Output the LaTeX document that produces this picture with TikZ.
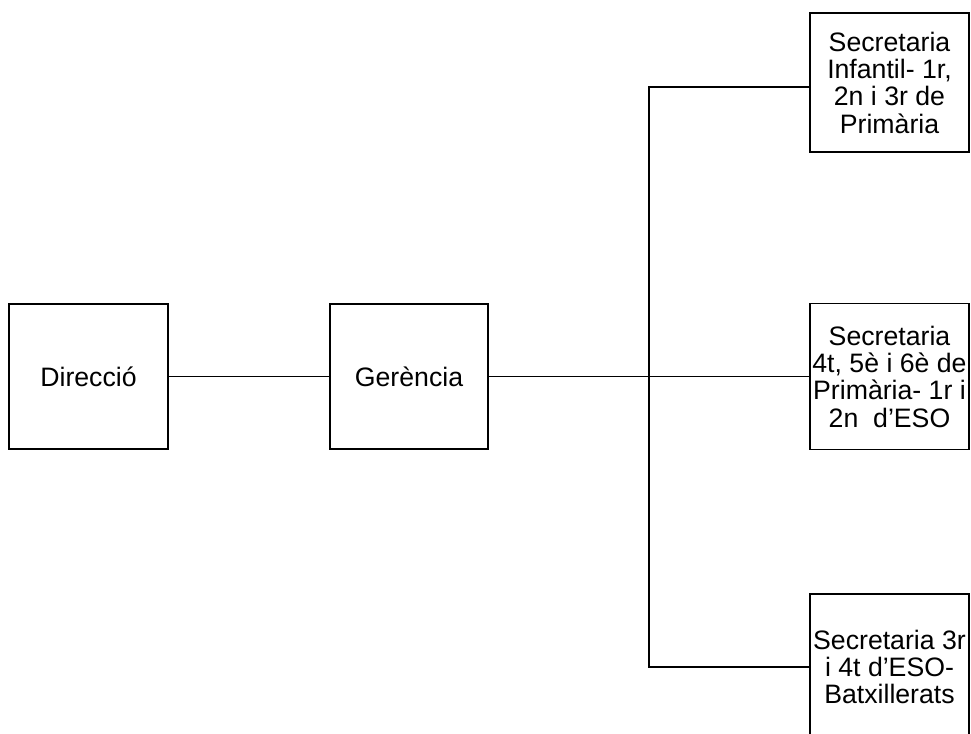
\documentclass[tikz,border=0pt]{standalone}
\usepackage{fontspec}
\setmainfont{Liberation Sans}
\usetikzlibrary{positioning, calc}

\begin{document}
\begin{tikzpicture}[x=0.75pt, y=-0.75pt, line width=1.4pt,
    box/.style={rectangle, draw, align=center, inner sep=0.5pt, minimum width=119pt, font=\fontsize{20}{20.5}\selectfont}]
    \useasboundingbox (0, 0) rectangle (971, 733);

    %Direccio i gerencia
    \node at (88.5, 376.5) [box, minimum height=109pt] (dir) {Direcció};
    \node at (409, 376.5) [box, minimum height=109pt] (ger) {Gerència};

    %Secretaries
    \node at (889.5, 82.5) [box, minimum height=104pt] (sec1) {Secretaria\\Infantil- 1r,\\2n i 3r de\\Primària};
    \node at (889.5, 376.5) [box, minimum height=109.5pt] (sec2) {Secretaria\\4t, 5è i 6è de\\Primària- 1r i\\2n\ \ d’ESO};
    \node at (889.5, 667) [box, minimum height=109.5pt] (sec3) {Secretaria 3r\\i 4t d’ESO-\\Batxillerats};

    \coordinate (jn) at (649, 376.5);

    \draw (dir.east) -- (ger.west);
    \draw (ger.east) -- (jn);

    \draw (jn) |- ([yshift=-3.4pt]sec1.west);
    \draw (jn) -- (sec2.west);
    \draw (jn) |- (sec3.west);
\end{tikzpicture}
\end{document}
